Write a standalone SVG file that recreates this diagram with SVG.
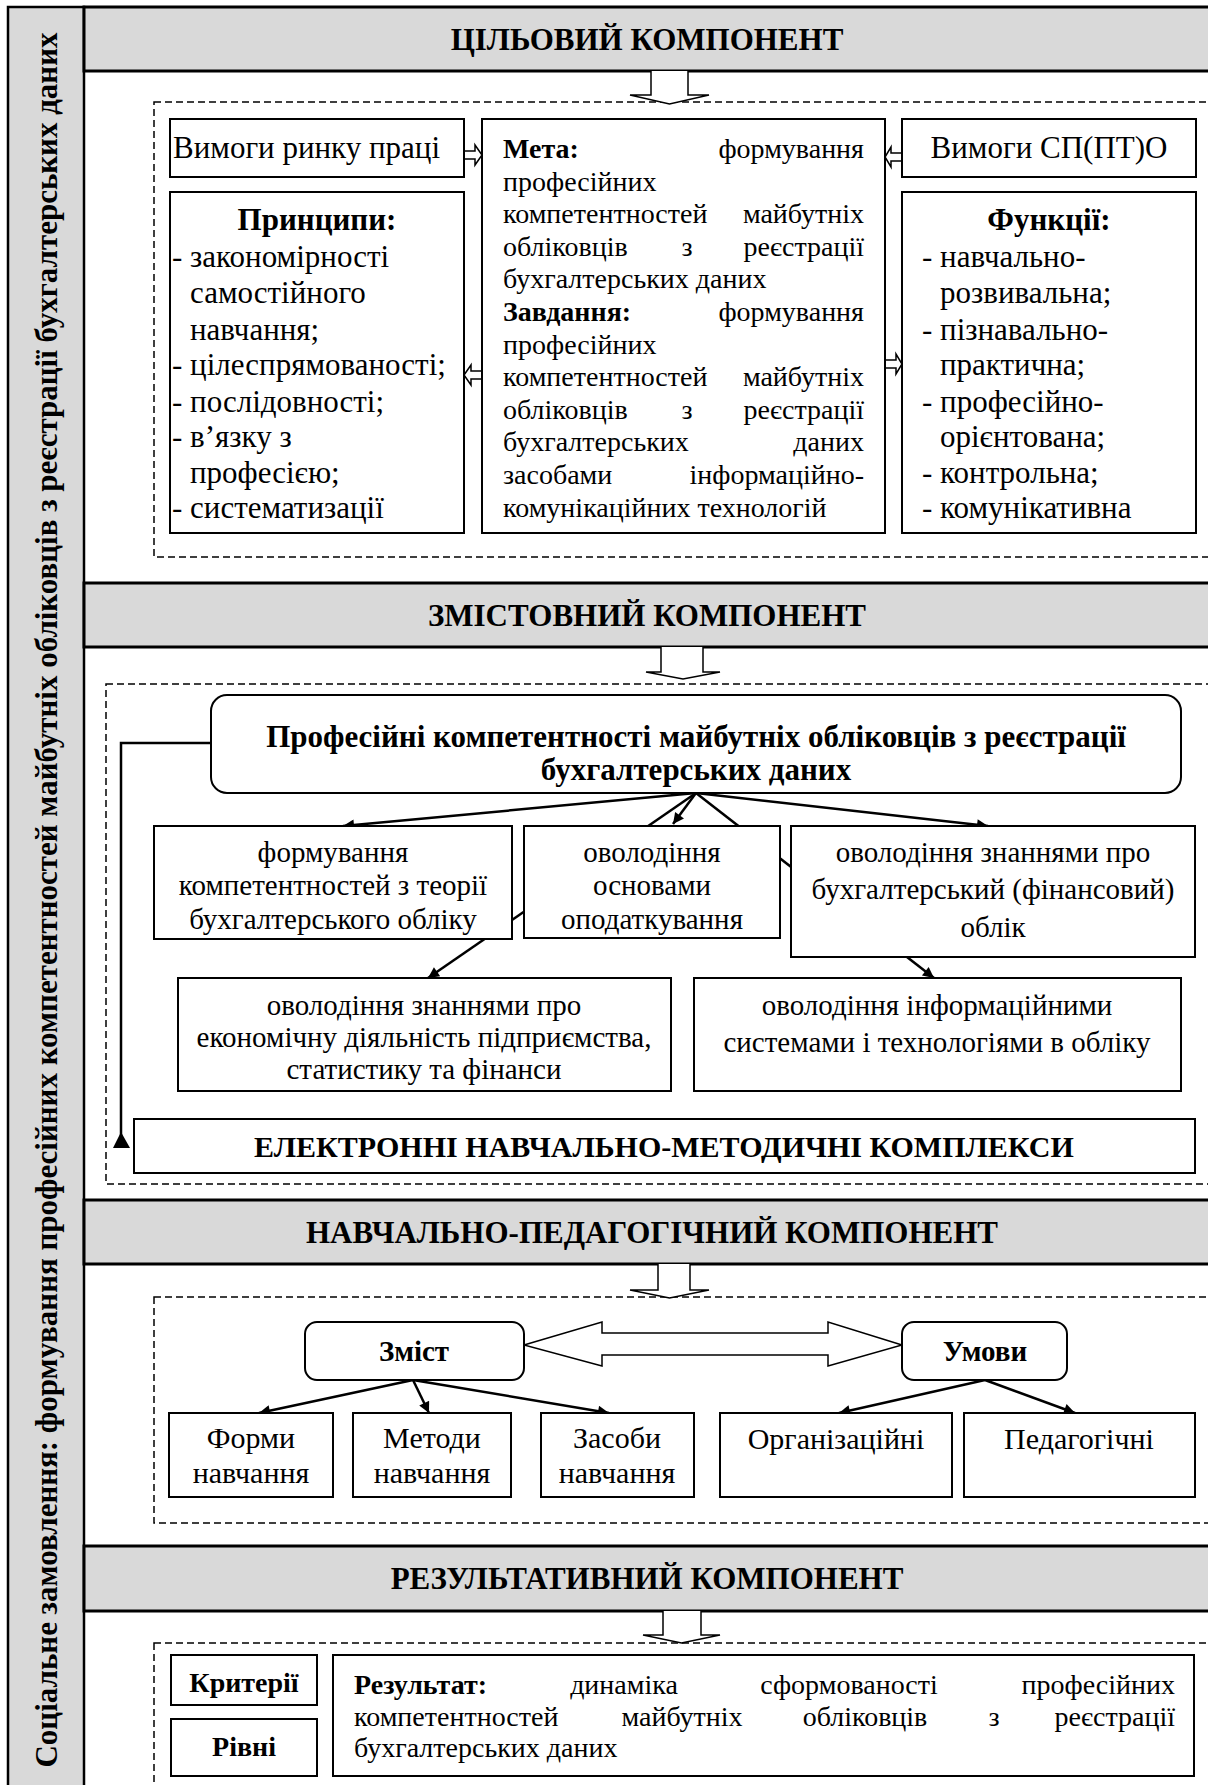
<svg xmlns="http://www.w3.org/2000/svg" width="1208" height="1785" viewBox="0 0 1208 1785">
<defs>
<style>
text{font-family:"Liberation Serif","Times New Roman",serif;fill:#000}
.hdr{fill:#d9d9d9;stroke:#000;stroke-width:3}
.hdt{font-size:31px;font-weight:bold;text-anchor:middle}
.box{fill:#fff;stroke:#000;stroke-width:2}
.dash{fill:none;stroke:#000;stroke-width:1.5;stroke-dasharray:7 4}
.t31{font-size:31px}
.t30{font-size:30px}
.t29{font-size:29px}
.t28{font-size:28px}
.b{font-weight:bold}
.c{text-anchor:middle}
.e{text-anchor:end}
.ln{fill:none;stroke:#000;stroke-width:2.5}
.hol{fill:#fff;stroke:#000;stroke-width:1.5}
</style>
<marker id="ah" viewBox="0 0 10 10" refX="10" refY="5" markerWidth="15" markerHeight="11" markerUnits="userSpaceOnUse" orient="auto"><path d="M0,0 L10,5 L0,10 z" fill="#000"/></marker>
</defs>
<rect width="1208" height="1785" fill="#fff"/>

<g id="sidebar">
<rect x="8" y="7" width="76" height="1790" fill="#d9d9d9" stroke="#000" stroke-width="2.5"/>
<text class="b" font-size="31" text-anchor="middle" transform="translate(57,900) rotate(-90)" textLength="1735" lengthAdjust="spacingAndGlyphs">Соціальне замовлення: формування професійних компетентностей майбутніх обліковців з реєстрації бухгалтерських даних</text>
</g>

<g id="headers">
<g id="h1"><rect class="hdr" x="84" y="7" width="1134" height="64"/><text class="hdt" x="647" y="50">ЦІЛЬОВИЙ КОМПОНЕНТ</text></g>
<g id="h2"><rect class="hdr" x="84" y="583" width="1134" height="64"/><text class="hdt" x="647" y="626">ЗМІСТОВНИЙ КОМПОНЕНТ</text></g>
<g id="h3"><rect class="hdr" x="84" y="1200" width="1134" height="64"/><text class="hdt" x="652" y="1243">НАВЧАЛЬНО-ПЕДАГОГІЧНИЙ КОМПОНЕНТ</text></g>
<g id="h4"><rect class="hdr" x="84" y="1546" width="1134" height="65"/><text class="hdt" x="647" y="1589">РЕЗУЛЬТАТИВНИЙ КОМПОНЕНТ</text></g>
</g>

<g id="frames">
<rect class="dash" x="154" y="102" width="1070" height="455"/>
<rect class="dash" x="106" y="684" width="1118" height="500"/>
<rect class="dash" x="154" y="1297" width="1070" height="226"/>
<rect class="dash" x="154" y="1643" width="1070" height="160"/>
</g>

<g id="connectors">
<path class="hol" d="M651,71 V95 H630 L669.5,104 L709,95 H688 V71"/>
<path class="hol" d="M661,647 V672 H646 L683,679 L720,672 H703 V647"/>
<path class="hol" d="M658,1264 V1290 H630 L669.5,1298 L709,1290 H690 V1264"/>
<path class="hol" d="M663,1611 V1635 H643 L681.5,1643 L720,1635 H701 V1611"/>
<path class="hol" d="M464,151 H475 V145 L482,155 L475,165 V159 H464 Z"/>
<path class="hol" d="M482,371 H471 V365 L464,375 L471,385 V379 H482 Z"/>
<path class="hol" d="M902,153 H891 V147 L885,157 L891,167 V161 H902 Z"/>
<path class="hol" d="M885,360 H896 V354 L902,364 L896,374 V368 H885 Z"/>
<line class="ln" x1="696" y1="793" x2="343" y2="826" marker-end="url(#ah)"/>
<line class="ln" x1="696" y1="793" x2="673" y2="824" marker-end="url(#ah)"/>
<line class="ln" x1="696" y1="793" x2="988" y2="826" marker-end="url(#ah)"/>
<line class="ln" x1="696" y1="793" x2="428" y2="978" marker-end="url(#ah)"/>
<line class="ln" x1="696" y1="793" x2="934" y2="978" marker-end="url(#ah)"/>
<polyline class="ln" points="212,743 121,743 121,1140"/>
<polygon points="121,1132 113,1148 130,1148" fill="#000"/>
<path class="hol" d="M524,1345 L602,1322 V1333 H828 V1322 L902,1345 L828,1366 V1355 H602 V1366 Z"/>
<line class="ln" x1="413" y1="1380" x2="259" y2="1413" marker-end="url(#ah)"/>
<line class="ln" x1="413" y1="1380" x2="429" y2="1413" marker-end="url(#ah)"/>
<line class="ln" x1="413" y1="1380" x2="609" y2="1413" marker-end="url(#ah)"/>
<line class="ln" x1="985" y1="1380" x2="839" y2="1413" marker-end="url(#ah)"/>
<line class="ln" x1="985" y1="1380" x2="1075" y2="1413" marker-end="url(#ah)"/>
</g>

<g id="n-rynok"><rect class="box" x="170" y="119" width="294" height="58"/><text class="t31" x="173" y="158">Вимоги ринку праці</text></g>
<g id="n-sp"><rect class="box" x="902" y="119" width="294" height="58"/><text class="t31 c" x="1049" y="158">Вимоги СП(ПТ)О</text></g>
<g id="n-pryntsypy"><rect class="box" x="170" y="192" width="294" height="341"/>
<text class="t31 b c" x="317" y="230">Принципи:</text>
<text class="t31" x="172" y="267">- закономірності</text>
<text class="t31" x="190" y="303">самостійного</text>
<text class="t31" x="190" y="340">навчання;</text>
<text class="t31" x="172" y="375">- цілеспрямованості;</text>
<text class="t31" x="172" y="412">- послідовності;</text>
<text class="t31" x="172" y="447">- в’язку з</text>
<text class="t31" x="190" y="483">професією;</text>
<text class="t31" x="172" y="518">- систематизації</text>
</g>
<g id="n-funktsii"><rect class="box" x="902" y="192" width="294" height="341"/>
<text class="t31 b c" x="1049" y="230">Функції:</text>
<text class="t31" x="922" y="267">- навчально-</text>
<text class="t31" x="940" y="303">розвивальна;</text>
<text class="t31" x="922" y="340">- пізнавально-</text>
<text class="t31" x="940" y="375">практична;</text>
<text class="t31" x="922" y="412">- професійно-</text>
<text class="t31" x="940" y="447">орієнтована;</text>
<text class="t31" x="922" y="483">- контрольна;</text>
<text class="t31" x="922" y="518">- комунікативна</text>
</g>
<g id="n-meta"><rect class="box" x="482" y="119" width="403" height="414"/>
<text class="t28"><tspan x="503" y="158" class="b">Мета:</tspan><tspan x="864" y="158" class="e">формування</tspan></text>
<text class="t28" x="503" y="190.6">професійних</text>
<text class="t28"><tspan x="503" y="223.2">компетентностей</tspan><tspan x="864" y="223.2" class="e">майбутніх</tspan></text>
<text class="t28"><tspan x="503" y="255.8">обліковців</tspan><tspan x="687" y="255.8" class="c">з</tspan><tspan x="864" y="255.8" class="e">реєстрації</tspan></text>
<text class="t28" x="503" y="288.4">бухгалтерських даних</text>
<text class="t28"><tspan x="503" y="321" class="b">Завдання:</tspan><tspan x="864" y="321" class="e">формування</tspan></text>
<text class="t28" x="503" y="353.6">професійних</text>
<text class="t28"><tspan x="503" y="386.2">компетентностей</tspan><tspan x="864" y="386.2" class="e">майбутніх</tspan></text>
<text class="t28"><tspan x="503" y="418.8">обліковців</tspan><tspan x="687" y="418.8" class="c">з</tspan><tspan x="864" y="418.8" class="e">реєстрації</tspan></text>
<text class="t28"><tspan x="503" y="451.4">бухгалтерських</tspan><tspan x="864" y="451.4" class="e">даних</tspan></text>
<text class="t28"><tspan x="503" y="484">засобами</tspan><tspan x="864" y="484" class="e">інформаційно-</tspan></text>
<text class="t28" x="503" y="516.6">комунікаційних технологій</text>
</g>

<g id="n-prof"><rect class="box" x="211" y="695" width="970" height="98" rx="16"/>
<text class="t31 b c" x="696" y="747">Професійні компетентності майбутніх обліковців з реєстрації</text>
<text class="t31 b c" x="696" y="780">бухгалтерських даних</text>
</g>
<g id="n-teoriia"><rect class="box" x="154" y="826" width="358" height="113"/>
<text class="t29 c" x="333" y="862">формування</text>
<text class="t29 c" x="333" y="895">компетентностей з теорії</text>
<text class="t29 c" x="333" y="929">бухгалтерського обліку</text>
</g>
<g id="n-opodatk"><rect class="box" x="524" y="826" width="256" height="112"/>
<text class="t29 c" x="652" y="862">оволодіння</text>
<text class="t29 c" x="652" y="895">основами</text>
<text class="t29 c" x="652" y="929">оподаткування</text>
</g>
<g id="n-finoblik"><rect class="box" x="791" y="826" width="404" height="131"/>
<text class="t29 c" x="993" y="862">оволодіння  знаннями про</text>
<text class="t29 c" x="993" y="899">бухгалтерський (фінансовий)</text>
<text class="t29 c" x="993" y="937">облік</text>
</g>
<g id="n-ekon"><rect class="box" x="178" y="978" width="493" height="113"/>
<text class="t29 c" x="424" y="1015">оволодіння знаннями про</text>
<text class="t29 c" x="424" y="1047">економічну діяльність підприємства,</text>
<text class="t29 c" x="424" y="1079">статистику та фінанси</text>
</g>
<g id="n-inform"><rect class="box" x="694" y="978" width="487" height="113"/>
<text class="t29 c" x="937" y="1015">оволодіння інформаційними</text>
<text class="t29 c" x="937" y="1052">системами і технологіями  в обліку</text>
</g>
<g id="n-enmk"><rect class="box" x="134" y="1119" width="1061" height="54"/>
<text class="t30 b c" x="664" y="1157">ЕЛЕКТРОННІ НАВЧАЛЬНО-МЕТОДИЧНІ КОМПЛЕКСИ</text>
</g>

<g id="n-zmist"><rect class="box" x="305" y="1322" width="219" height="58" rx="12"/><text class="t29 b c" x="414" y="1361">Зміст</text></g>
<g id="n-umovy"><rect class="box" x="902" y="1322" width="165" height="58" rx="12"/><text class="t29 b c" x="985" y="1361">Умови</text></g>
<g id="n-formy"><rect class="box" x="169" y="1413" width="164" height="84"/><text class="t30 c" x="251" y="1448">Форми</text><text class="t30 c" x="251" y="1483">навчання</text></g>
<g id="n-metody"><rect class="box" x="353" y="1413" width="158" height="84"/><text class="t30 c" x="432" y="1448">Методи</text><text class="t30 c" x="432" y="1483">навчання</text></g>
<g id="n-zasoby"><rect class="box" x="541" y="1413" width="153" height="84"/><text class="t30 c" x="617" y="1448">Засоби</text><text class="t30 c" x="617" y="1483">навчання</text></g>
<g id="n-org"><rect class="box" x="720" y="1413" width="232" height="84"/><text class="t30 c" x="836" y="1449">Організаційні</text></g>
<g id="n-ped"><rect class="box" x="964" y="1413" width="231" height="84"/><text class="t30 c" x="1079" y="1449">Педагогічні</text></g>

<g id="n-kryterii"><rect class="box" x="171" y="1655" width="146" height="50"/><text class="t28 b c" x="244" y="1692">Критерії</text></g>
<g id="n-rivni"><rect class="box" x="171" y="1719" width="146" height="57"/><text class="t28 b c" x="244" y="1756">Рівні</text></g>
<g id="n-rezultat"><rect class="box" x="333" y="1655" width="861" height="121"/>
<text class="t28"><tspan x="354" y="1694" class="b">Результат:</tspan><tspan x="624" y="1694" class="c">динаміка</tspan><tspan x="849" y="1694" class="c">сформованості</tspan><tspan x="1175" y="1694" class="e">професійних</tspan></text>
<text class="t28"><tspan x="354" y="1726">компетентностей</tspan><tspan x="682" y="1726" class="c">майбутніх</tspan><tspan x="865" y="1726" class="c">обліковців</tspan><tspan x="994" y="1726" class="c">з</tspan><tspan x="1175" y="1726" class="e">реєстрації</tspan></text>
<text class="t28" x="354" y="1757">бухгалтерських даних</text>
</g>
</svg>
